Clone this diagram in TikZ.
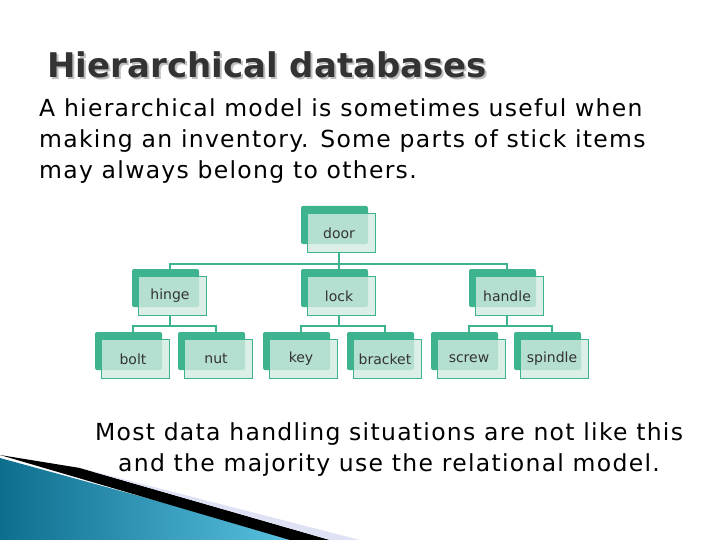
\documentclass[tikz,border=0pt]{standalone}
\usepackage{fontspec}
\setmainfont{DejaVu Sans}
\newfontfamily\bodyfont[LetterSpace=5.5]{DejaVu Sans}
\begin{document}
\begin{tikzpicture}[x=1pt,y=-1pt,
  back/.style={fill=teal7,draw=none},
  front/.style={fill=mint,fill opacity=0.8,draw=teal7,line width=1pt,text opacity=1},
  conn/.style={draw=teal7,line width=2pt},
  body/.style={font=\bodyfont\fontsize{23.5}{31}\selectfont,inner sep=0},
  lab/.style={font=\fontsize{14}{16}\selectfont,text=black!80}]
\definecolor{teal7}{HTML}{3DB38F}
\definecolor{mint}{HTML}{D3ECE2}
\definecolor{bluedark}{HTML}{0E6E8E}
\definecolor{bluelight}{HTML}{5CC3E3}
\useasboundingbox (0,0) rectangle (720,540);
\fill[white] (0,0) rectangle (720,540);
% decoration
\shade[left color=bluedark, right color=bluelight] (0,458) -- (300,540) -- (0,540) -- cycle;
\fill[black] (0,455) -- (80,468) -- (330,540) -- (290,540) -- cycle;
\fill[cyan!30!blue!12] (80,468) -- (360,540) -- (330,540) -- cycle;
% title
\node[anchor=west,text=gray!50] at (46,67) {\fontsize{34}{38}\selectfont\bfseries Hierarchical databases};
\node[anchor=west,text=black!80] (title) at (44,65) {\fontsize{34}{38}\selectfont\bfseries Hierarchical databases};
\node[body,anchor=north west,align=left] (toptext) at (39,98) {A hierarchical model is sometimes useful when\\making an inventory. Some parts of stick items\\may always belong to others.};
\node[body,align=center] (bottomtext) at (389,450) {Most data handling situations are not like this\\and the majority use the relational model.};
% nodes
\foreach \n/\x/\y in {door/339/233,hinge/170/296,lock/339/296,handle/507/296,bolt/133/359,nut/216/359,key/301/359,bracket/385/359,screw/469/359,spindle/552/359}{
  \fill[back,rounded corners=2pt] (\x-38,\y-27) rectangle (\x+29,\y+11);
  \node[front,minimum width=68pt,minimum height=39pt,inner sep=0] (\n) at (\x+2,\y) {};
  \node[lab] at (\x,\y) {\n};
}
% connectors
\coordinate (b1) at (339,264);
\draw[conn] (door.south -| 339,0) -- (b1);
\draw[conn] (hinge.north -| 170,0) |- (b1) -| (handle.north -| 507,0);
\draw[conn] (b1) -- (lock.north -| 339,0);
\foreach \p/\a/\b/\x/\xa/\xb in {hinge/bolt/nut/170/133/216,lock/key/bracket/339/301/385,handle/screw/spindle/507/469/552}{
  \draw[conn] (\p.south -| \x,0) -- (\x,326);
  \draw[conn] (\a.north -| \xa,0) |- (\x,326) -| (\b.north -| \xb,0);
}
\end{tikzpicture}
\end{document}
